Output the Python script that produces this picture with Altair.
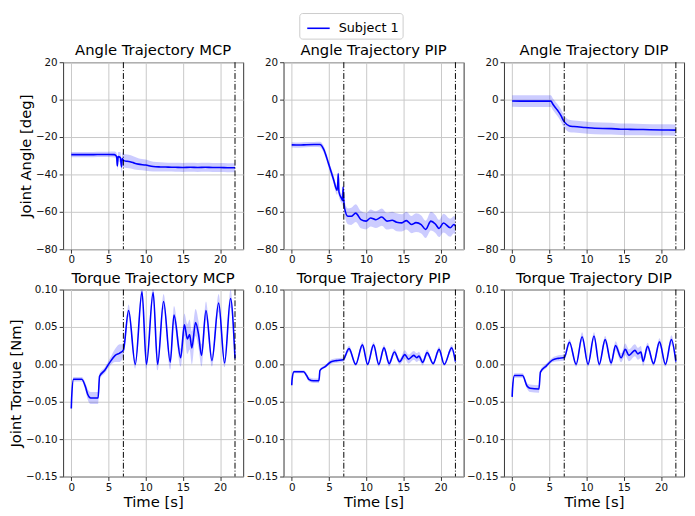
import altair as alt
import pandas as pd

# ---------------- data ----------------
event_times = [7, 22]

# Angle MCP
t_ang_mcp = [0, 1, 2, 3, 4, 5, 5.8, 6.1, 6.18, 6.3, 6.6, 6.75, 6.85, 7.0, 7.5, 8.0, 8.5, 9.0,
             10.0, 11.0, 12, 13, 14, 15, 16, 17, 18, 19, 20, 21, 22]
m_ang_mcp = [-29.4, -29.4, -29.4, -29.4, -29.3, -29.3, -29.4, -30.5, -35.5, -30.5, -31.0, -36.0,
             -31.5, -32.5, -33.0, -33.3, -34.0, -34.5, -35.0, -35.8, -36.0, -36.1, -36.2, -36.3,
             -36.2, -36.3, -36.2, -36.3, -36.3, -36.4, -36.4]
h_ang_mcp = [1.4, 1.4, 1.4, 1.4, 1.4, 1.4, 1.6, 2.0, 2.2, 2.5, 3.0, 3.2, 3.4, 3.5, 3.6, 3.6, 3.4,
             3.2, 3.0, 2.6, 2.5, 2.4, 2.4, 2.4, 2.4, 2.4, 2.4, 2.4, 2.4, 2.4, 2.4]

# Angle PIP
t_ang_pip = [0, 1, 2, 3, 3.8, 4.3, 4.9, 5.6, 6.1, 6.2, 6.25, 6.35, 6.7, 6.85, 6.9, 7.0, 7.1,
             7.55, 8.0, 8.6, 9.3, 10.0, 10.6, 11.3, 12.1, 12.8, 13.5, 14.1, 14.8, 15.4, 16.1,
             16.7, 17.4, 18.0, 18.7, 19.3, 19.8, 20.4, 21.3, 21.8, 22.0]
m_ang_pip = [-24.2, -24.3, -24.1, -24.0, -24.0, -26.6, -33.6, -42.4, -48.5, -44.0, -39.7, -49.5,
             -52.8, -54.0, -46.7, -54.0, -58.0, -62.4, -62.4, -60.7, -64.2, -65.0, -63.3, -64.2,
             -62.8, -65.0, -64.5, -65.6, -65.9, -64.7, -66.8, -65.8, -66.8, -69.4, -65.0, -66.5,
             -68.9, -66.0, -68.5, -66.8, -67.7]
h_ang_pip = [1.4, 1.4, 1.4, 1.4, 1.5, 1.8, 2.0, 2.2, 2.4, 2.4, 2.4, 2.4, 2.6, 2.8, 3.0, 3.2, 3.6,
             4.2, 4.6, 4.8, 4.6, 4.4, 4.6, 4.5, 4.6, 4.5, 4.6, 4.8, 4.6, 4.8, 4.6, 5.0, 4.8,
             4.6, 5.0, 4.8, 4.6, 5.0, 4.8, 4.6, 4.6]

# Angle DIP
t_ang_dip = [0, 2, 4, 5.2, 5.5, 6.1, 6.6, 6.8, 7.1, 7.7, 8.3, 9.8, 11.1, 13.3, 14.6, 15.9,
             17.6, 20.2, 22]
m_ang_dip = [-0.7, -0.8, -0.8, -0.8, -2.6, -5.7, -8.8, -10.5, -12.3, -14.1, -14.4, -14.9, -15.3,
             -15.5, -15.8, -15.9, -16.0, -16.2, -16.3]
h_ang_dip = [3.1, 3.1, 3.1, 3.1, 3.1, 3.2, 3.3, 3.3, 3.3, 3.3, 3.2, 3.2, 3.2, 3.2, 3.1, 3.1,
             3.0, 3.0, 3.0]

# Torque MCP
t_trq_mcp = [0, 0.05, 0.3, 1.4, 1.9, 2.2, 2.6, 3.6, 3.8, 4.5, 5.2, 5.9, 6.5, 7.0, 7.7, 8.6,
             9.5, 10.1, 11.0, 11.6, 12.4, 13.3, 13.8, 14.7, 15.2, 15.6, 15.9, 16.2, 16.7, 17.1,
             17.5, 18.1, 18.9, 19.8, 20.6, 21.4, 22.0]
m_trq_mcp = [-0.059, -0.045, -0.020, -0.020, -0.030, -0.040, -0.045, -0.045, -0.016, -0.008,
             0.003, 0.012, 0.015, 0.019, 0.072, 0.000, 0.097, 0.000, 0.096, 0.000, 0.084, 0.003,
             0.066, 0.009, 0.053, 0.034, 0.040, 0.022, 0.056, 0.040, 0.012, 0.072, 0.005,
             0.082, 0.002, 0.088, 0.008]
h_trq_mcp = [0.003, 0.003, 0.003, 0.003, 0.005, 0.007, 0.008, 0.008, 0.004, 0.004, 0.005,
             0.009, 0.012, 0.008, 0.008, 0.006, 0.010, 0.006, 0.010, 0.008, 0.010, 0.010,
             0.012, 0.012, 0.015, 0.020, 0.020, 0.022, 0.018, 0.018, 0.015, 0.012, 0.008,
             0.012, 0.006, 0.012, 0.006]

# Torque PIP
t_trq_pip = [0, 0.05, 0.3, 1.6, 2.0, 2.3, 2.9, 3.65, 3.8, 4.5, 5.3, 6.0, 6.9, 7.7, 8.6, 9.5,
             10.2, 11.0, 11.7, 12.4, 13.1, 13.8, 14.5, 15.2, 15.7, 16.4, 16.8, 17.1, 17.6,
             18.2, 19.0, 19.8, 20.5, 21.5, 22.0]
m_trq_pip = [-0.028, -0.020, -0.010, -0.010, -0.015, -0.020, -0.022, -0.022, -0.008, -0.003,
             0.0035, 0.005, 0.006, 0.021, 0.000, 0.026, 0.000, 0.026, 0.000, 0.022, 0.001,
             0.0165, 0.0035, 0.013, 0.007, 0.012, 0.009, 0.011, 0.0026, 0.0157, 0.001, 0.020,
             0.000, 0.022, 0.0035]
h_trq_pip = [0.002, 0.002, 0.002, 0.002, 0.003, 0.003, 0.003, 0.003, 0.002, 0.002, 0.003,
             0.003, 0.003, 0.004, 0.002, 0.004, 0.002, 0.004, 0.003, 0.004, 0.004, 0.004,
             0.004, 0.006, 0.006, 0.006, 0.006, 0.006, 0.004, 0.004, 0.002, 0.004, 0.002,
             0.004, 0.002]

# Torque DIP
t_trq_dip = [0, 0.05, 0.3, 1.4, 2.0, 2.4, 3.6, 3.8, 4.6, 5.4, 6.2, 7.0, 7.7, 8.6, 9.4, 10.2,
             11.0, 11.7, 12.5, 13.3, 13.9, 14.65, 15.2, 15.7, 16.5, 16.9, 17.3, 17.6, 18.2,
             19.0, 19.8, 20.6, 21.4, 22.0]
m_trq_dip = [-0.0435, -0.033, -0.015, -0.015, -0.029, -0.032, -0.033, -0.0104, -0.002, 0.0057,
             0.008, 0.009, 0.0296, 0.000, 0.037, 0.000, 0.038, 0.000, 0.033, 0.002, 0.025,
             0.0087, 0.020, 0.012, 0.0187, 0.014, 0.0165, 0.004, 0.024, 0.001, 0.030, 0.000,
             0.033, 0.0035]
h_trq_dip = [0.002, 0.002, 0.003, 0.003, 0.004, 0.005, 0.005, 0.003, 0.003, 0.003, 0.004,
             0.004, 0.004, 0.003, 0.006, 0.003, 0.005, 0.003, 0.005, 0.004, 0.006, 0.006,
             0.008, 0.008, 0.008, 0.008, 0.008, 0.006, 0.005, 0.003, 0.005, 0.003, 0.006,
             0.003]

titles = ["Angle Trajectory MCP", "Angle Trajectory PIP", "Angle Trajectory DIP",
          "Torque Trajectory MCP", "Torque Trajectory PIP", "Torque Trajectory DIP"]
series = [(t_ang_mcp, m_ang_mcp, h_ang_mcp), (t_ang_pip, m_ang_pip, h_ang_pip),
          (t_ang_dip, m_ang_dip, h_ang_dip), (t_trq_mcp, m_trq_mcp, h_trq_mcp),
          (t_trq_pip, m_trq_pip, h_trq_pip), (t_trq_dip, m_trq_dip, h_trq_dip)]

angle_ticks = [-80, -60, -40, -20, 0, 20]
torque_ticks = [-0.15, -0.10, -0.05, 0.00, 0.05, 0.10]
time_ticks = [0, 5, 10, 15, 20]

W, H = 183, 190
BLUE = "#0000ff"

legend = alt.Legend(title=None, orient="none", legendX=240, legendY=-50,
                    symbolType="stroke", symbolStrokeWidth=1.6, symbolSize=520,
                    labelFontSize=13, labelFont="DejaVu Sans", labelColor="black",
                    strokeColor="#cccccc", fillColor="white", padding=3, cornerRadius=3,
                    symbolOffset=4, labelOffset=8)

panels = []
for i, (title, (t, m, h)) in enumerate(zip(titles, series)):
    df = pd.DataFrame({"t": t, "m": m, "lo": [a - b for a, b in zip(m, h)],
                       "hi": [a + b for a, b in zip(m, h)], "s": "Subject 1"})
    is_angle = i < 3
    col = i % 3
    ydom = [-80, 20] if is_angle else [-0.15, 0.10]
    yticks = angle_ticks if is_angle else torque_ticks
    yfmt = "d" if is_angle else ".2f"
    ytitle = None
    if col == 0:
        ytitle = "Joint Angle [deg]" if is_angle else "Joint Torque [Nm]"
    xtitle = None if is_angle else "Time [s]"

    xscale = alt.Scale(domain=[-1.1, 23.1], nice=False, zero=False)
    xaxis = alt.Axis(values=time_ticks, title=xtitle, format="d", labelOverlap=False) \
        if xtitle else alt.Axis(values=time_ticks, title=None, format="d", labelOverlap=False)
    yaxis = alt.Axis(values=yticks, format=yfmt, title=ytitle, labelOverlap=False) \
        if ytitle else alt.Axis(values=yticks, format=yfmt, title=None, labelOverlap=False)
    yscale = alt.Scale(domain=ydom, nice=False, zero=False)

    base = alt.Chart(df)
    band = base.mark_area(color=BLUE, opacity=0.2, clip=True, interpolate="monotone").encode(
        x=alt.X("t:Q", scale=xscale, axis=xaxis),
        y=alt.Y("lo:Q", scale=yscale, axis=yaxis), y2="hi:Q")
    line = base.mark_line(strokeWidth=1.6, clip=True, interpolate="monotone").encode(
        x=alt.X("t:Q", scale=xscale, axis=xaxis),
        y=alt.Y("m:Q", scale=yscale, axis=yaxis),
        color=alt.Color("s:N", scale=alt.Scale(domain=["Subject 1"], range=[BLUE]),
                        legend=legend))
    rules = alt.Chart(pd.DataFrame({"e": event_times})).mark_rule(
        color="black", strokeWidth=1, strokeDash=[6, 2, 1, 2]).encode(
        x=alt.X("e:Q", scale=xscale, axis=xaxis))
    panel = alt.layer(band, line, rules).properties(
        width=W, height=H,
        title=alt.TitleParams(title, fontSize=15, font="DejaVu Sans", fontWeight="normal",
                              offset=-1, color="black"))
    panels.append(panel)

chart = alt.concat(*panels, columns=3, spacing={"row": 4, "column": 1}).properties(
    padding={"left": 0, "top": 0, "right": 2, "bottom": 2}
).configure_axis(
    labelFont="DejaVu Sans", labelFontSize=10.5, labelColor="#111111",
    titleFont="DejaVu Sans", titleFontSize=15, titleFontWeight="normal", titleColor="black",
    tickColor="#333333", tickSize=4, labelPadding=2, domain=False,
    gridColor="#c8c8c8", gridWidth=1, titlePadding=2
).configure_view(stroke="#333333", strokeWidth=1)

chart.save("out.html", embed_options={"renderer": "svg", "actions": False})
